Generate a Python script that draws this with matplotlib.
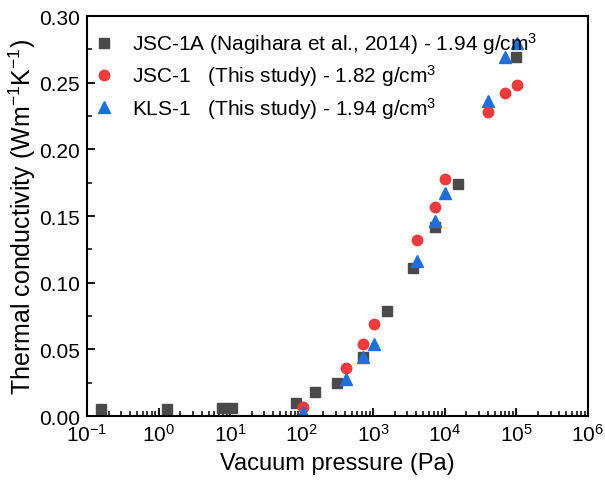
import matplotlib
matplotlib.use("Agg")
import matplotlib.pyplot as plt
from matplotlib.ticker import LogLocator, MultipleLocator, FormatStrFormatter
import numpy as np

plt.rcParams['font.family'] = ['Liberation Sans', 'DejaVu Sans']
plt.rcParams['mathtext.fontset'] = 'custom'
plt.rcParams['mathtext.rm'] = 'Liberation Sans'
plt.rcParams['mathtext.it'] = 'Liberation Sans:italic'
plt.rcParams['mathtext.bf'] = 'Liberation Sans:bold'

# JSC-1A (Nagihara et al., 2014)
p_jsc1a = [0.155, 1.3, 7.8, 10.6, 83, 155, 313, 725, 1550, 3630, 7250, 15400, 100000]
k_jsc1a = [0.005, 0.005, 0.006, 0.006, 0.010, 0.018, 0.025, 0.044, 0.079, 0.111, 0.142, 0.174, 0.269]
# JSC-1 (This study)
p_jsc1 = [103, 420, 730, 1020, 4100, 7250, 10200, 40500, 70000, 102000]
k_jsc1 = [0.007, 0.036, 0.054, 0.069, 0.132, 0.157, 0.178, 0.228, 0.242, 0.248]
# KLS-1 (This study)
p_kls1 = [103, 420, 725, 1020, 4100, 7250, 10200, 40500, 70000, 102000]
k_kls1 = [0.003, 0.028, 0.044, 0.054, 0.116, 0.146, 0.167, 0.236, 0.269, 0.280]

labels = ['JSC-1A (Nagihara et al., 2014) - 1.94 g/cm$^3$',
          'JSC-1   (This study) - 1.82 g/cm$^3$',
          'KLS-1   (This study) - 1.94 g/cm$^3$']

fig = plt.figure(figsize=(6.05, 4.89), dpi=100)
ax = fig.add_axes([0.1438, 0.147, 0.828, 0.818])

ax.plot(p_jsc1a, k_jsc1a, 's', color='#4a4a4a', markersize=7, linestyle='none', label=labels[0])
ax.plot(p_jsc1, k_jsc1, 'o', color='#ee3b3b', markersize=7.5, linestyle='none', label=labels[1])
ax.plot(p_kls1, k_kls1, '^', color='#1e6fdc', markersize=8, linestyle='none', label=labels[2])

ax.set_xscale('log')
ax.set_xlim(0.1, 1e6)
ax.set_ylim(0, 0.30)
ax.xaxis.set_major_locator(LogLocator(base=10, numticks=10))
ax.xaxis.set_minor_locator(LogLocator(base=10, subs=np.arange(2, 10), numticks=100))
ax.yaxis.set_major_locator(MultipleLocator(0.05))
ax.yaxis.set_minor_locator(MultipleLocator(0.025))
ax.yaxis.set_major_formatter(FormatStrFormatter('%.2f'))

ax.tick_params(which='both', direction='in', top=False, right=False, labelsize=15)
ax.tick_params(which='major', length=6, width=1.3, pad=5)
ax.tick_params(which='minor', length=3.5, width=1.1)
for s in ax.spines.values():
    s.set_linewidth(1.5)

ax.set_xlabel('Vacuum pressure (Pa)', fontsize=17, labelpad=5)
ax.set_ylabel('Thermal conductivity (Wm$^{-1}$K$^{-1}$)', fontsize=18, labelpad=1)

leg = ax.legend(loc='upper left', frameon=False, fontsize=15, handletextpad=0.95,
                borderaxespad=0.0, labelspacing=0.3, handlelength=0.8,
                bbox_to_anchor=(0.0, 0.985))

fig.savefig('out.png', dpi=100)
